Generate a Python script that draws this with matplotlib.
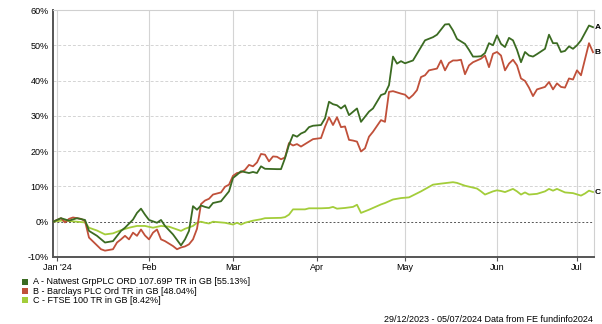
import matplotlib
matplotlib.use("Agg")
import matplotlib.pyplot as plt
from matplotlib.patches import Rectangle
import pandas as pd

plt.rcParams['font.family'] = ['Liberation Sans', 'DejaVu Sans']

# trading days from 29/12/2023 to 05/07/2024 (x axis is in trading-day steps)
days = pd.bdate_range('2023-12-29', '2024-07-05')

# Natwest (A) - trading day index, cumulative return %
a_day = [0, 2, 4, 6, 8, 9, 11, 13, 15, 17, 18, 20, 21, 22, 23, 24, 26, 27, 28, 30, 32, 33, 34, 35, 36,
         37, 38, 39, 40, 42, 43, 44, 45, 46, 47, 49, 50, 51, 52, 53, 56, 57, 58, 59, 60, 61, 62, 63, 64,
         65, 67, 68, 69, 70, 71, 72, 73, 74, 76, 77, 79, 80, 82, 83, 84, 85, 86, 87, 88, 90, 91, 93, 95,
         96, 98, 99, 100, 101, 103, 104, 105, 106, 107, 108, 109, 110, 111, 112, 113, 114, 115, 116, 117,
         118, 119, 120, 121, 123, 124, 125, 126, 127, 128, 129, 130, 131, 132, 134, 135]
a_val = [0.0, 1.0, 0.3, 1.0, 0.5, -2.6, -4.0, -5.9, -5.5, -2.6, -1.7, 0.6, 2.5, 3.7, 2.0, 0.5, -0.3, 0.5,
         -1.2, -3.6, -6.7, -5.0, -2.6, 4.4, 3.4, 4.6, 4.2, 3.9, 5.3, 5.8, 7.2, 8.6, 12.4, 13.3, 14.3, 13.8,
         14.1, 13.8, 15.7, 15.0, 14.9, 14.9, 18.0, 21.8, 24.6, 24.1, 25.0, 25.5, 26.8, 27.2, 27.4, 29.3,
         34.0, 33.3, 33.0, 32.1, 33.0, 30.2, 32.1, 28.3, 31.2, 32.1, 35.9, 36.3, 38.7, 46.8, 44.8, 45.5,
         44.9, 45.7, 47.6, 51.4, 52.3, 53.0, 55.9, 56.0, 54.2, 51.8, 50.4, 48.7, 46.8, 46.8, 46.9, 47.8,
         50.6, 50.0, 52.8, 50.4, 49.5, 52.1, 51.4, 48.7, 45.2, 48.1, 47.1, 46.8, 47.5, 49.0, 53.0, 50.6,
         50.6, 48.1, 48.4, 49.7, 49.0, 50.0, 51.4, 55.6, 55.13]

# Barclays (B)
b_day = [0, 1, 2, 3, 4, 5, 6, 7, 8, 9, 10, 12, 13, 15, 16, 17, 18, 19, 20, 21, 22, 23, 24, 25, 26, 27,
         28, 30, 31, 32, 33, 34, 35, 36, 37, 38, 39, 40, 41, 42, 43, 44, 45, 46, 47, 48, 49, 50, 51, 52,
         53, 54, 55, 56, 57, 58, 59, 60, 61, 62, 63, 64, 65, 67, 68, 69, 70, 71, 72, 73, 74, 75, 76, 77,
         78, 79, 80, 82, 83, 84, 85, 87, 88, 89, 90, 91, 92, 93, 94, 96, 97, 98, 99, 100, 101, 102, 103,
         104, 105, 107, 108, 109, 110, 111, 112, 113, 114, 115, 116, 117, 118, 119, 120, 121, 123, 124,
         125, 126, 127, 128, 129, 130, 131, 132, 134, 135]
b_val = [0.0, 0.5, 1.0, -0.2, 0.8, 1.2, 1.0, 0.8, 0.2, -4.5, -5.6, -7.8, -8.2, -7.8, -5.9, -5.0, -4.0,
         -5.0, -3.1, -4.0, -2.2, -3.9, -5.0, -3.1, -2.2, -5.0, -5.5, -6.9, -7.8, -7.3, -7.0, -6.4, -5.0,
         -2.0, 5.0, 6.0, 6.5, 7.7, 8.0, 8.3, 9.9, 10.5, 13.0, 13.8, 14.0, 14.7, 16.1, 15.7, 16.8, 19.2,
         19.0, 17.1, 18.5, 18.4, 17.7, 18.2, 22.3, 21.6, 22.0, 21.3, 22.0, 22.7, 23.4, 23.7, 26.9, 29.6,
         27.4, 29.6, 26.8, 27.0, 23.2, 23.0, 22.7, 19.9, 20.8, 24.1, 25.5, 28.8, 28.3, 36.8, 37.0, 36.3,
         36.0, 34.9, 35.9, 37.3, 41.0, 41.5, 42.9, 43.4, 45.7, 42.9, 45.0, 45.7, 45.7, 45.9, 41.8, 44.3,
         45.2, 46.2, 47.1, 43.8, 47.6, 48.1, 47.1, 42.9, 44.8, 45.9, 44.3, 40.6, 39.9, 38.0, 35.6, 37.5,
         38.2, 39.6, 37.5, 39.2, 38.2, 38.0, 40.6, 40.3, 42.9, 41.5, 50.6, 48.04]

# FTSE 100 (C)
c_day = [0, 2, 4, 6, 8, 9, 11, 13, 15, 17, 19, 21, 23, 25, 27, 29, 31, 32, 33, 35, 36, 37, 38, 39, 40,
         43, 45, 46, 47, 48, 50, 52, 53, 57, 58, 59, 60, 63, 64, 67, 69, 70, 71, 73, 75, 76, 77, 79, 82,
         83, 85, 87, 88, 89, 92, 95, 97, 100, 101, 103, 106, 107, 108, 110, 111, 112, 113, 115, 116, 117,
         118, 119, 121, 123, 124, 125, 126, 128, 130, 132, 133, 134, 135]
c_val = [0.0, 0.3, 0.2, 0.0, -0.2, -1.7, -2.5, -3.6, -3.3, -2.4, -1.7, -1.2, -1.2, -1.7, -1.2, -1.4,
         -2.2, -2.6, -2.0, -1.2, -0.3, 0.0, -0.3, -0.5, 0.0, -0.3, -0.8, -0.3, -0.8, -0.3, 0.3, 0.7, 1.0,
         1.1, 1.3, 2.0, 3.5, 3.5, 3.8, 3.8, 3.9, 4.2, 3.7, 3.9, 4.2, 4.8, 2.5, 3.4, 4.9, 5.3, 6.3, 6.7,
         6.8, 6.9, 8.6, 10.5, 10.8, 11.2, 11.0, 10.2, 9.4, 8.6, 7.7, 8.6, 8.9, 8.7, 8.4, 9.3, 8.6, 7.7,
         8.3, 7.7, 7.9, 8.6, 9.3, 8.8, 9.3, 8.3, 8.1, 7.4, 8.0, 8.8, 8.42]

series_tags = ['A', 'B', 'C']
series_names = ['A - Natwest GrpPLC ORD 107.69P TR in GB [55.13%]',
                'B - Barclays PLC Ord TR in GB [48.04%]',
                'C - FTSE 100 TR in GB [8.42%]']
colors = ['#3b6b22', '#c0503a', '#a3cd3a']

month_labels = ["Jan '24", 'Feb', 'Mar', 'Apr', 'May', 'Jun', 'Jul']
y_ticks = [-10, 0, 10, 20, 30, 40, 50, 60]

fig = plt.figure(figsize=(6.02, 3.24), dpi=100)
ax = fig.add_axes([53 / 602, 1 - 257 / 324, 541 / 602, 247 / 324])

# draw C first so A and B sit on top
for tag, x, y, col, z in zip(series_tags, [a_day, b_day, c_day], [a_val, b_val, c_val], colors, [4, 3, 2]):
    ax.plot(x, y, color=col, lw=1.3, zorder=z)
    ax.annotate(tag, (x[-1], y[-1]), xytext=(1.2, 0), textcoords='offset points',
                fontsize=6, fontweight='bold', va='center', ha='left', annotation_clip=False)

ax.set_xlim(0, len(days) - 0.75)
ax.set_ylim(-10, 60)

# first trading day of each month
first_idx = []
seen = set()
for i, d in enumerate(days):
    if d.month not in seen and i > 0:
        seen.add(d.month)
        first_idx.append(i)
ax.set_xticks(first_idx)
ax.set_xticklabels(month_labels, fontsize=6.5)
ax.set_yticks(y_ticks)
ax.set_yticklabels([f'{v}%' for v in y_ticks], fontsize=6.5)
ax.tick_params(axis='y', length=0, pad=3)
ax.tick_params(axis='x', length=3, width=0.8, color='#555555', pad=1)

for v in y_ticks:
    if v == 0:
        ax.axhline(0, color='#555555', lw=0.7, ls=(0, (2, 2)), zorder=1)
    else:
        ax.axhline(v, color='#d4d4d4', lw=0.7, ls=(0, (3, 2)), zorder=0)
for i in first_idx:
    ax.axvline(i, color='#d4d4d4', lw=0.8, zorder=0)

for s in ['left', 'bottom']:
    ax.spines[s].set_color('#555555')
    ax.spines[s].set_linewidth(1.4)
for s in ['top', 'right']:
    ax.spines[s].set_color('#d0d0d0')
    ax.spines[s].set_linewidth(0.8)

# legend block under the chart
for k, (name, col) in enumerate(zip(series_names, colors)):
    yc = 1 - (282 + 9.2 * k) / 324
    fig.patches.append(Rectangle((22 / 602, yc - 3 / 324), 6 / 602, 6 / 324,
                                 transform=fig.transFigure, facecolor=col, edgecolor='none'))
    fig.text(33 / 602, yc, name, fontsize=6.5, va='center', ha='left')

fig.text(593 / 602, 1 - 319 / 324, '29/12/2023 - 05/07/2024 Data from FE fundinfo2024',
         fontsize=6.5, ha='right', va='center')

fig.savefig('out.png', dpi=100)
